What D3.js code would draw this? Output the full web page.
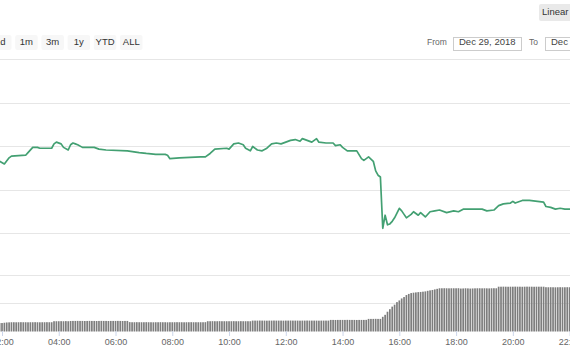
<!DOCTYPE html>
<html>
<head>
<meta charset="utf-8">
<script src="https://cdn.jsdelivr.net/npm/d3@7"></script>
<style>
  body { margin: 0; background: #fff; }
  svg { display: block; font-family: "Liberation Sans", Arial, sans-serif; }
</style>
</head>
<body>
<svg id="chart" width="570" height="350"></svg>
<script>
// price line (time of day, USD)
const day = "2018-12-29";
const priceTimes = [
  "01:55","02:05","02:15","02:20","02:50","02:55","03:05","03:15","03:20","03:30","03:45","03:50","03:55",
  "04:05","04:10","04:20","04:25","04:30","04:35","04:40","04:50","05:15","05:25","05:40","06:25","06:50",
  "07:05","07:25","07:45","07:50","07:55","08:15","09:00","09:10","09:20","09:30","09:55","10:00","10:10",
  "10:20","10:30","10:35","10:45","10:50","11:00","11:10","11:20","11:30","11:40","11:50","12:00","12:10",
  "12:20","12:30","12:35","12:45","12:55","13:05","13:10","13:25","13:40","13:45","13:55","14:00","14:10",
  "14:20","14:30","14:40","14:45","14:55","15:05","15:10","15:15","15:20","15:25","15:30","15:35","15:40",
  "15:45","15:50","16:00","16:05","16:10","16:15","16:25","16:30","16:40","16:45","16:55","17:05","17:15",
  "17:25","17:40","17:55","18:05","18:15","18:30","18:55","19:05","19:20","19:30","19:40","19:55","20:00",
  "20:05","20:20","20:35","21:05","21:10","21:20","21:30","21:40","21:50","22:00","22:05"
];
const priceValues = [
  3933,3930,3937,3939,3940,3943,3949,3949,3948,3948,3948,3953,3955,
  3953,3949,3946,3952,3954,3953,3952,3949,3949,3947,3946,3945,3943,
  3942,3941,3941,3940,3936,3937,3938,3938,3942,3947,3948,3947,3953,
  3954,3952,3948,3945,3950,3946,3945,3948,3953,3954,3953,3955,3957,
  3958,3956,3959,3957,3955,3959,3955,3954,3954,3951,3952,3949,3945,
  3945,3945,3936,3934,3938,3933,3922,3917,3915,3856,3871,3860,3861,
  3864,3868,3879,3876,3872,3868,3872,3875,3871,3874,3869,3875,3876,
  3877,3874,3876,3875,3878,3878,3878,3876,3877,3882,3884,3885,3887,
  3885,3888,3888,3886,3881,3880,3878,3879,3878,3878,3878
];

// 24h volume (billions), one bar every 5 minutes from volStart
const volStart = "01:55";
const volValues = [
  1.50,
  1.50,1.55,1.60,1.62,1.64,1.64,1.63,1.64,1.65,1.64,1.64,1.63, // 02
  1.64,1.64,1.65,1.64,1.63,1.64,1.64,1.65,1.64,1.64,1.82,1.82, // 03
  1.82,1.83,1.82,1.84,1.82,1.86,1.87,1.87,1.88,1.87,1.87,1.86, // 04
  1.87,1.88,1.87,1.87,1.86,1.87,1.88,1.87,1.87,1.86,1.87,1.87, // 05
  1.87,1.88,1.87,1.86,1.87,1.87,1.66,1.64,1.64,1.65,1.64,1.64, // 06
  1.64,1.65,1.64,1.64,1.63,1.64,1.64,1.65,1.64,1.64,1.63,1.64, // 07
  1.64,1.64,1.65,1.64,1.64,1.63,1.64,1.64,1.65,1.64,1.64,1.64, // 08
  1.64,1.64,1.65,1.82,1.82,1.83,1.82,1.82,1.83,1.82,1.82,1.82, // 09
  1.82,1.82,1.83,1.82,1.82,1.83,1.82,1.82,1.82,1.82,1.93,1.93, // 10
  1.93,1.94,1.93,1.93,1.92,1.93,1.93,1.94,1.93,1.93,1.93,1.92, // 11
  1.93,1.93,1.94,1.93,1.93,1.93,1.92,1.93,1.93,1.94,1.93,1.93, // 12
  1.93,1.93,1.92,1.93,1.93,1.93,1.93,2.05,2.05,2.04,2.05,2.05, // 13
  2.05,2.05,2.06,2.05,2.05,2.05,2.04,2.05,2.05,2.05,2.06,2.23, // 14
  2.23,2.23,2.24,2.23,2.23,2.60,2.95,3.50,3.95,4.40,4.75,5.20, // 15
  5.50,5.85,6.10,6.45,6.65,6.80,6.87,6.92,6.97,7.00,7.05,7.10, // 16
  7.20,7.28,7.35,7.45,7.55,7.65,7.65,7.66,7.65,7.64,7.65,7.65, // 17
  7.65,7.66,7.60,7.62,7.65,7.63,7.60,7.62,7.64,7.65,7.65,7.64, // 18
  7.65,7.64,7.63,7.65,7.66,7.65,7.93,7.93,7.94,7.93,7.92,7.93, // 19
  7.93,7.94,7.93,7.93,7.92,7.93,7.94,7.93,7.93,7.92,7.93,7.93, // 20
  7.93,7.93,7.84,7.83,7.84,7.83,7.82,7.83,7.84,7.83,7.83,7.84, // 21
  7.83,7.83
];

const priceTicks = [3850, 3900, 3950, 4000, 4050];
const volumeTicks = [5, 10];
const timeTicks = ["02:00","04:00","06:00","08:00","10:00","12:00","14:00","16:00","18:00","20:00","22:00"];
const rangeButtons = ["1d", "1m", "3m", "1y", "YTD", "ALL"];
const dateFrom = "Dec 29, 2018";
const dateTo = "Dec 30, 2018";

const parse = d3.utcParse("%Y-%m-%d %H:%M");
const at = t => parse(day + " " + t);

const prices = priceTimes.map((t, i) => ({ date: at(t), value: priceValues[i] }));
const t0 = at(volStart);
const volumes = volValues.map((v, i) => ({ date: d3.utcMinute.offset(t0, 5 * i), value: v }));

const svg = d3.select("#chart");

const x = d3.scaleUtc()
  .domain([at("02:00"), at("22:00")])
  .range([2, 569.6]);

const y = d3.scaleLinear()
  .domain([3850, 4050])
  .range([233.5, 59.5]);

const yVol = d3.scaleLinear()
  .domain([0, 10])
  .range([331.5, 275]);

// grid lines
svg.append("g").selectAll("line")
  .data(priceTicks)
  .enter().append("line")
  .attr("x1", 0).attr("x2", 570)
  .attr("y1", d => y(d)).attr("y2", d => y(d))
  .attr("stroke", "#e6e6e6")
  .attr("shape-rendering", "crispEdges");

svg.append("g").selectAll("line")
  .data(volumeTicks)
  .enter().append("line")
  .attr("x1", 0).attr("x2", 570)
  .attr("y1", d => yVol(d)).attr("y2", d => yVol(d))
  .attr("stroke", "#e6e6e6")
  .attr("shape-rendering", "crispEdges");

// volume bars
svg.append("g").selectAll("rect")
  .data(volumes)
  .enter().append("rect")
  .attr("x", d => x(d.date) - 0.85)
  .attr("width", 1.7)
  .attr("y", d => yVol(d.value))
  .attr("height", d => yVol(0) - yVol(d.value))
  .attr("fill", "#7d7d7d");

// price line
const line = d3.line()
  .x(d => x(d.date))
  .y(d => y(d.value));

svg.append("path")
  .datum(prices)
  .attr("d", line)
  .attr("fill", "none")
  .attr("stroke", "#43a072")
  .attr("stroke-width", 1.7)
  .attr("stroke-linejoin", "round");

// x axis
const xAxis = svg.append("g")
  .attr("transform", "translate(0,331)")
  .call(d3.axisBottom(x)
    .tickValues(timeTicks.map(at))
    .tickSize(5)
    .tickFormat(d3.utcFormat("%H:%M")));
xAxis.select(".domain").remove();
xAxis.selectAll(".tick line").attr("stroke", "#ccd6eb");
xAxis.selectAll(".tick text")
  .attr("fill", "#666")
  .attr("font-size", "9px")
  .attr("font-family", "Liberation Sans, Arial, sans-serif");

// range selector buttons
const btn = svg.append("g").selectAll("g")
  .data(rangeButtons)
  .enter().append("g")
  .attr("transform", (d, i) => "translate(" + (-11 + i * 26.2) + ",35)");
btn.append("rect")
  .attr("width", 22.5).attr("height", 15).attr("rx", 2)
  .attr("fill", "#f7f7f7");
btn.append("text")
  .attr("x", 11.25).attr("y", 10)
  .attr("text-anchor", "middle")
  .attr("font-size", "9.5px")
  .attr("fill", "#333")
  .text(d => d);

// date inputs
const inputs = svg.append("g");
inputs.append("text").attr("x", 427).attr("y", 45)
  .attr("font-size", "8.5px").attr("fill", "#666").text("From");
inputs.append("rect").attr("x", 453.5).attr("y", 37.5).attr("width", 68).attr("height", 13)
  .attr("fill", "#fff").attr("stroke", "#ccc");
inputs.append("text").attr("x", 459).attr("y", 45)
  .attr("font-size", "9.5px").attr("fill", "#444").text(dateFrom);
inputs.append("text").attr("x", 529).attr("y", 45)
  .attr("font-size", "8.5px").attr("fill", "#666").text("To");
inputs.append("rect").attr("x", 545.5).attr("y", 37.5).attr("width", 68).attr("height", 13)
  .attr("fill", "#fff").attr("stroke", "#ccc");
inputs.append("text").attr("x", 551).attr("y", 45)
  .attr("font-size", "9.5px").attr("fill", "#444").text(dateTo);

// scale toggle
svg.append("rect").attr("x", 539).attr("y", 4).attr("width", 34).attr("height", 17).attr("rx", 2)
  .attr("fill", "#e9e9e9");
svg.append("text").attr("x", 542).attr("y", 15)
  .attr("font-size", "9.5px").attr("fill", "#333").text("Linear");
</script>
</body>
</html>
